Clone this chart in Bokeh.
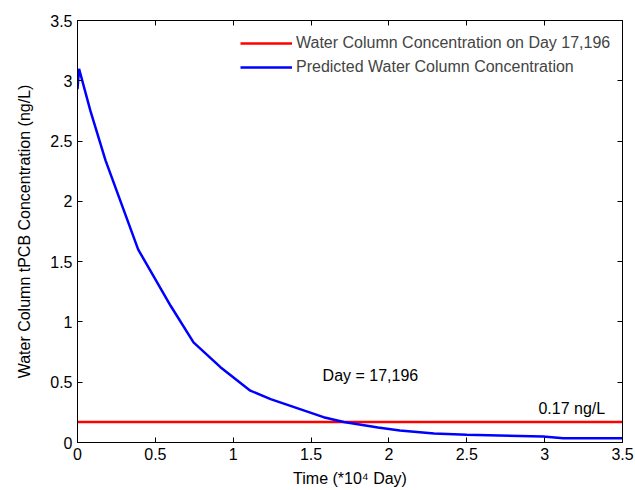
from bokeh.plotting import figure
from bokeh.models import Legend, LegendItem, LinearAxis, FixedTicker, Range1d, ColumnDataSource
from bokeh.core.properties import value
from bokeh.embed import file_html
from bokeh.resources import INLINE

# ---- data ----
time = [0, 0.01, 0.083, 0.18, 0.39, 0.60, 0.745, 0.918, 1.11, 1.24, 1.58, 1.71,
        1.93, 2.07, 2.29, 2.5, 2.99, 3.12, 3.5]
conc = [2.93, 3.1, 2.75, 2.34, 1.6, 1.13, 0.83, 0.625, 0.43, 0.36, 0.21, 0.17,
        0.125, 0.10, 0.075, 0.065, 0.05, 0.035, 0.035]
ref_time = [0, 3.5]
ref_conc = [0.17, 0.17]

x_ticks = [0, 0.5, 1, 1.5, 2, 2.5, 3, 3.5]
x_tick_labels = ["0", "0.5", "1", "1.5", "2", "2.5", "3", "3.5"]
y_ticks = [0, 0.5, 1, 1.5, 2, 2.5, 3, 3.5]
y_tick_labels = ["0", "0.5", "1", "1.5", "2", "2.5", "3", "3.5"]

ann_x = [1.574, 2.96]
ann_y = [0.553, 0.286]
ann_text = ["Day = 17,196", "0.17 ng/L"]

FONT = "Liberation Sans"
FS = "16px"

p = figure(width=635, height=490, x_range=Range1d(0, 3.5), y_range=Range1d(0, 3.5),
           output_backend="svg", toolbar_location=None,
           min_border_left=77, min_border_right=13, min_border_top=20, min_border_bottom=48)
p.xgrid.visible = False
p.ygrid.visible = False
p.outline_line_color = "black"
p.background_fill_color = "white"
p.border_fill_color = "white"

bottom = p.below[0]
left = p.left[0]

def style_axis(ax, ticks, labels, show_labels=True):
    ax.ticker = FixedTicker(ticks=ticks)
    ax.major_tick_in = 5
    ax.major_tick_out = 0
    ax.minor_tick_line_color = None
    ax.axis_line_color = "black"
    ax.major_tick_line_color = "black"
    ax.major_label_text_font = FONT
    ax.major_label_text_color = "black"
    if show_labels:
        ax.major_label_overrides = {t: l for t, l in zip(ticks, labels)}
        ax.major_label_text_font_size = FS
    else:
        ax.major_label_overrides = {t: "" for t in ticks}
        ax.major_label_text_font_size = "1px"
        ax.major_label_standoff = 0

style_axis(bottom, x_ticks, x_tick_labels)
style_axis(left, y_ticks, y_tick_labels)
bottom.major_label_standoff = 5
left.major_label_standoff = 5

top = LinearAxis()
style_axis(top, x_ticks, x_tick_labels, show_labels=False)
right = LinearAxis()
style_axis(right, y_ticks, y_tick_labels, show_labels=False)
p.add_layout(top, "above")
p.add_layout(right, "right")

bottom.axis_label = "Time (*10\u2074 Day)"
left.axis_label = "Water Column tPCB Concentration (ng/L)"
for ax in (bottom, left):
    ax.axis_label_text_font = FONT
    ax.axis_label_text_font_size = FS
    ax.axis_label_text_font_style = "normal"
    ax.axis_label_text_color = "black"
bottom.axis_label_standoff = 7
left.axis_label_standoff = 14

r_red = p.line(ref_time, ref_conc, line_color="#FF0000", line_width=2.5)
r_blue = p.line(time, conc, line_color="#0000FF", line_width=2.5)

src = ColumnDataSource(dict(x=ann_x, y=ann_y, t=ann_text))
p.text(x="x", y="y", text="t", source=src, text_font=value(FONT), text_font_size=FS,
       text_baseline="middle", text_align="left", text_color="black")

legend = Legend(items=[
    LegendItem(label="Water Column Concentration on Day 17,196", renderers=[r_red]),
    LegendItem(label="Predicted Water Column Concentration", renderers=[r_blue]),
], location=(163, 365))
legend.border_line_color = None
legend.background_fill_alpha = 0
legend.padding = 0
legend.margin = 0
legend.spacing = 4
legend.glyph_width = 52
legend.label_standoff = 4
legend.label_text_font = FONT
legend.label_text_font_size = FS
legend.label_height = 20
legend.glyph_height = 20
p.add_layout(legend, "center")

open("out.html", "w").write(file_html(p, INLINE))
